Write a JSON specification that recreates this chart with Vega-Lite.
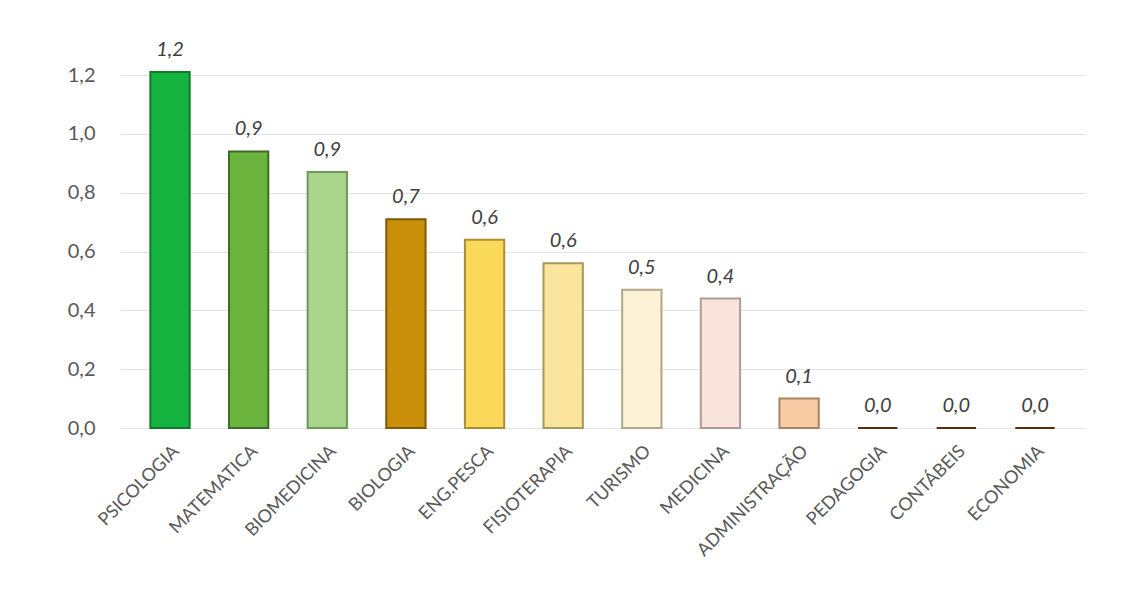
{
  "$schema": "https://vega.github.io/schema/vega-lite/v6.json",
  "autosize": {"type": "none"},
  "width": 965,
  "height": 353,
  "padding": {"left": 120, "top": 75, "right": 61, "bottom": 188},
  "background": "white",
  "config": {
    "locale": {"number": {"decimal": ",", "thousands": ".", "grouping": [3], "currency": ["R$", ""]}},
    "view": {"stroke": null},
    "font": "Lato"
  },
  "data": {
    "values": [
      {"curso": "PSICOLOGIA", "valor": 1.21},
      {"curso": "MATEMATICA", "valor": 0.94},
      {"curso": "BIOMEDICINA", "valor": 0.87},
      {"curso": "BIOLOGIA", "valor": 0.71},
      {"curso": "ENG.PESCA", "valor": 0.64},
      {"curso": "FISIOTERAPIA", "valor": 0.56},
      {"curso": "TURISMO", "valor": 0.47},
      {"curso": "MEDICINA", "valor": 0.44},
      {"curso": "ADMINISTRAÇÃO", "valor": 0.1},
      {"curso": "PEDAGOGIA", "valor": 0},
      {"curso": "CONTÁBEIS", "valor": 0},
      {"curso": "ECONOMIA", "valor": 0}
    ]
  },
  "encoding": {
    "x": {
      "field": "curso", "type": "nominal", "sort": null,
      "scale": {"paddingInner": 0.5, "paddingOuter": 0.386},
      "axis": {
        "title": null, "labelAngle": -45, "labelAlign": "right", "labelBaseline": "top",
        "labelFontSize": 18, "labelColor": "#595959", "ticks": false, "domain": false,
        "labelPadding": 14, "labelFont": "Lato"
      }
    },
    "y": {
      "field": "valor", "type": "quantitative",
      "scale": {"domain": [0, 1.2], "nice": false},
      "axis": {
        "title": null, "format": ".1f", "values": [0, 0.2, 0.4, 0.6, 0.8, 1.0, 1.2],
        "labelFontSize": 20, "labelColor": "#595959", "ticks": false, "domain": false,
        "gridColor": "#e3e3e3", "labelPadding": 25, "labelFont": "Lato"
      }
    }
  },
  "layer": [
    {
      "mark": {"type": "bar", "strokeWidth": 2},
      "encoding": {
        "color": {
          "field": "curso", "type": "nominal", "sort": null, "legend": null,
          "scale": {
            "domain": ["PSICOLOGIA", "MATEMATICA", "BIOMEDICINA", "BIOLOGIA", "ENG.PESCA", "FISIOTERAPIA", "TURISMO", "MEDICINA", "ADMINISTRAÇÃO", "PEDAGOGIA", "CONTÁBEIS", "ECONOMIA"],
            "range": ["#14b340", "#6ab43e", "#a9d58c", "#c98f0a", "#f9d85a", "#fbe49c", "#fdf2d6", "#f8e4dc", "#f8cba4", "#7a3b10", "#7a3b10", "#7a3b10"]
          }
        },
        "stroke": {
          "field": "curso", "type": "nominal", "sort": null, "legend": null,
          "scale": {
            "domain": ["PSICOLOGIA", "MATEMATICA", "BIOMEDICINA", "BIOLOGIA", "ENG.PESCA", "FISIOTERAPIA", "TURISMO", "MEDICINA", "ADMINISTRAÇÃO", "PEDAGOGIA", "CONTÁBEIS", "ECONOMIA"],
            "range": ["#0e7a2c", "#3f6b25", "#6e9a55", "#7f5a06", "#a88f35", "#a89760", "#b0a888", "#b09c92", "#a8845f", "#5a2a0a", "#5a2a0a", "#5a2a0a"]
          }
        }
      }
    },
    {
      "mark": {"type": "text", "baseline": "bottom", "dy": -12, "fontSize": 20, "fontStyle": "italic", "color": "#404040", "font": "Lato"},
      "encoding": {
        "text": {"field": "valor", "type": "quantitative", "format": ".1f"}
      }
    }
  ]
}
